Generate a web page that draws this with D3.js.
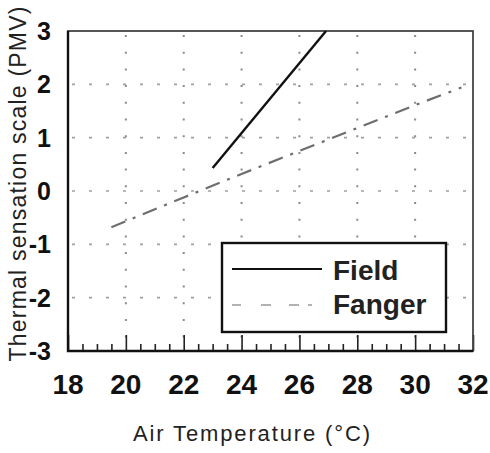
<!DOCTYPE html>
<html>
<head>
<meta charset="utf-8">
<script src="https://cdn.jsdelivr.net/npm/d3@7"></script>
<style>
  html, body { margin: 0; padding: 0; background: #fff; }
  svg { display: block; }
  text { font-family: "Liberation Sans", Arial, Helvetica, sans-serif; }
</style>
</head>
<body>
<svg id="chart" width="490" height="453"></svg>
<script>
// ---- data ----
const xTicks = [18, 20, 22, 24, 26, 28, 30, 32];
const yTicks = [-3, -2, -1, 0, 1, 2, 3];
const xGrid = [20, 22, 24, 26, 28, 30];
const yGrid = [-2, -1, 0, 1, 2];
const fieldTemp = [23.0, 26.92];
const fieldPMV = [0.43, 3.0];
const fangerTemp = [19.5, 22, 24, 26, 28, 30, 31.6];
const fangerPMV = [-0.68, -0.12, 0.32, 0.75, 1.18, 1.61, 1.94];
const seriesNames = ["Field", "Fanger"];
const xTitle = "Air Temperature  (°C)";
const yTitle = "Thermal  sensation scale (PMV)";

// ---- layout ----
const svg = d3.select("#chart");
const pL = 68, pR = 473, pT = 31, pB = 351;
const x = d3.scaleLinear().domain([18, 32]).range([pL, pR]);
const y = d3.scaleLinear().domain([-3, 3]).range([pB, pT]);

// gridlines (dotted)
svg.append("g").selectAll("line").data(xGrid).join("line")
  .attr("x1", d => x(d)).attr("x2", d => x(d))
  .attr("y1", pT + 4).attr("y2", pB)
  .attr("stroke", "#8a8a8a").attr("stroke-width", 2)
  .attr("stroke-dasharray", "2,14.7");
svg.append("g").selectAll("line").data(yGrid).join("line")
  .attr("x1", pL + 4).attr("x2", pR)
  .attr("y1", d => y(d)).attr("y2", d => y(d))
  .attr("stroke", "#a0a0a0").attr("stroke-width", 1.6)
  .attr("stroke-dasharray", "3,14");

// x axis ticks (inward)
const xAxis = d3.axisTop(x).tickValues(d3.range(18, 32.01, 0.5))
  .tickSize(0).tickFormat("");
const gx = svg.append("g").attr("transform", `translate(0,${pB})`).call(xAxis);
gx.select(".domain").remove();
gx.selectAll(".tick line")
  .attr("y2", d => (Math.abs(d - Math.round(d)) < 1e-6 && Math.round(d) % 2 === 0) ? -16 : -7)
  .attr("stroke", "#222").attr("stroke-width", 1.6);

// frame
svg.append("rect").attr("x", pL).attr("y", pT)
  .attr("width", pR - pL).attr("height", pB - pT)
  .attr("fill", "none").attr("stroke", "#444").attr("stroke-width", 1.8);
svg.append("path")
  .attr("d", `M${pL},${pT}V${pB}H${pR}`)
  .attr("fill", "none").attr("stroke", "#111").attr("stroke-width", 2.4);

// tick labels
svg.append("g").selectAll("text").data(xTicks).join("text")
  .attr("x", d => x(d)).attr("y", 394)
  .attr("text-anchor", "middle")
  .attr("font-size", 28).attr("font-weight", "bold").attr("fill", "#111")
  .text(d => d);
svg.append("g").selectAll("text").data(yTicks).join("text")
  .attr("x", 51).attr("y", d => y(d)).attr("dy", "0.36em")
  .attr("text-anchor", "end")
  .attr("font-size", 25).attr("font-weight", "bold").attr("fill", "#111")
  .text(d => d);

// series
const line = d3.line().x(d => x(d[0])).y(d => y(d[1]));
const fieldPts = fieldTemp.map((t, i) => [t, fieldPMV[i]]);
const fangerPts = fangerTemp.map((t, i) => [t, fangerPMV[i]]);
svg.append("path").datum(fangerPts).attr("d", line)
  .attr("fill", "none").attr("stroke", "#6e6e6e").attr("stroke-width", 2.2)
  .attr("stroke-dasharray", "15,8,3,8");
svg.append("path").datum(fieldPts).attr("d", line)
  .attr("fill", "none").attr("stroke", "#111").attr("stroke-width", 2.4);

// legend
const lg = svg.append("g");
lg.append("rect").attr("x", 222).attr("y", 243).attr("width", 224).attr("height", 89)
  .attr("fill", "#fff").attr("stroke", "#111").attr("stroke-width", 2.4);
lg.append("line").attr("x1", 232).attr("x2", 322).attr("y1", 269).attr("y2", 269)
  .attr("stroke", "#111").attr("stroke-width", 2);
lg.append("line").attr("x1", 232).attr("x2", 312).attr("y1", 305).attr("y2", 305)
  .attr("stroke", "#999").attr("stroke-width", 1.6)
  .attr("stroke-dasharray", "9,20,10,18,10");
lg.selectAll("text.lab").data(seriesNames).join("text").attr("class", "lab")
  .attr("x", 333).attr("y", (d, i) => 280 + i * 34)
  .attr("font-size", 28).attr("font-weight", "bold").attr("fill", "#222")
  .text(d => d);

// axis titles
svg.append("text").attr("x", 251.5).attr("y", 441)
  .attr("text-anchor", "middle").attr("font-size", 22).attr("fill", "#222")
  .attr("textLength", 237).attr("lengthAdjust", "spacing")
  .text(xTitle);
svg.append("text")
  .attr("transform", "translate(26,184) rotate(-90)")
  .attr("text-anchor", "middle").attr("font-size", 23).attr("fill", "#222")
  .attr("textLength", 355).attr("lengthAdjust", "spacing")
  .text(yTitle);
</script>
</body>
</html>
